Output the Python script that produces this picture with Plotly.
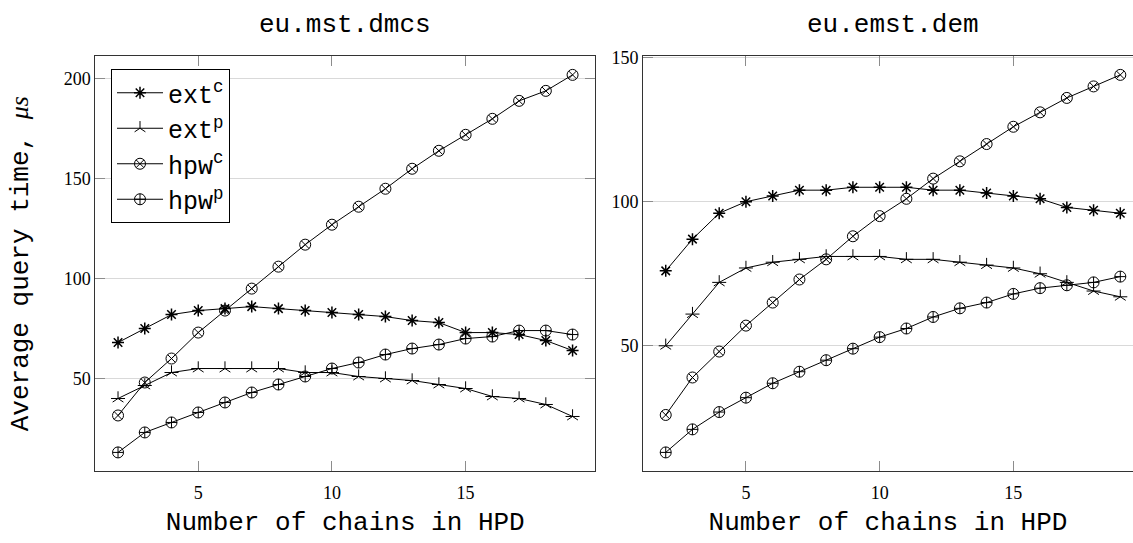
import plotly.graph_objects as go

chains = list(range(2, 20))

# eu.mst.dmcs (left)
mst_ext_c = [68, 75, 82, 84, 85, 86, 85, 84, 83, 82, 81, 79, 78, 73, 73, 72, 69, 64]
mst_ext_p = [40, 46.5, 53, 55, 55, 55, 55, 53, 53, 51, 50, 49, 47, 45, 41, 40, 37, 31]
mst_hpw_c = [31.5, 48, 60, 73, 84, 95, 106, 117, 127, 136, 145, 155, 164, 172, 180, 189, 194, 202]
mst_hpw_p = [13, 23, 28, 33, 38, 43, 47, 51, 55, 58, 62, 65, 67, 70, 71, 74, 74, 72]

# eu.emst.dem (right)
emst_ext_c = [76, 87, 96, 100, 102, 104, 104, 105, 105, 105, 104, 104, 103, 102, 101, 98, 97, 96]
emst_ext_p = [50, 61, 72, 77, 79, 80, 81, 81, 81, 80, 80, 79, 78, 77, 75, 72, 69, 67]
emst_hpw_c = [26, 39, 48, 57, 65, 73, 80, 88, 95, 101, 108, 114, 120, 126, 131, 136, 140, 144]
emst_hpw_p = [13, 21, 27, 32, 37, 41, 45, 49, 53, 56, 60, 63, 65, 68, 70, 71, 72, 74]

titles = ["eu.mst.dmcs", "eu.emst.dem"]
names = ["ext<sup>c</sup>", "ext<sup>p</sup>", "hpw<sup>c</sup>", "hpw<sup>p</sup>"]
xticks = [5, 10, 15]

MONO = "Liberation Mono"
SERIF = "Liberation Serif"
W, H = 1133, 543

fig = go.Figure()

def add_series(xa, ya, ys, show):
    ext_c, ext_p, hpw_c, hpw_p = ys
    common = dict(mode="lines+markers", line=dict(color="black", width=1))
    fig.add_trace(go.Scatter(x=chains, y=ext_c, name=names[0], xaxis=xa, yaxis=ya, showlegend=show,
                             marker=dict(symbol="asterisk-open", size=10, color="black",
                                         line=dict(color="black", width=1.5)), **common))
    fig.add_trace(go.Scatter(x=chains, y=ext_p, name=names[1], xaxis=xa, yaxis=ya, showlegend=show,
                             legendgroup="extp" + xa,
                             marker=dict(symbol="y-up-open", size=9, color="black",
                                         line=dict(color="black", width=1)), **common))
    fig.add_trace(go.Scatter(x=chains, y=ext_p, name=names[1], xaxis=xa, yaxis=ya, showlegend=False,
                             legendgroup="extp" + xa, mode="markers",
                             marker=dict(symbol="line-ew-open", size=10, color="black",
                                         line=dict(color="black", width=1))))
    fig.add_trace(go.Scatter(x=chains, y=hpw_c, name=names[2], xaxis=xa, yaxis=ya, showlegend=show,
                             marker=dict(symbol="circle-x-open", size=11, color="black",
                                         line=dict(color="black", width=1)), **common))
    fig.add_trace(go.Scatter(x=chains, y=hpw_p, name=names[3], xaxis=xa, yaxis=ya, showlegend=show,
                             marker=dict(symbol="circle-cross-open", size=11, color="black",
                                         line=dict(color="black", width=1)), **common))

add_series("x", "y", (mst_ext_c, mst_ext_p, mst_hpw_c, mst_hpw_p), True)
add_series("x2", "y2", (emst_ext_c, emst_ext_p, emst_hpw_c, emst_hpw_p), False)

ydom = [1 - 471.3 / H, 1 - 56 / H]
axis_common = dict(ticks="inside", ticklen=10, tickwidth=1, tickcolor="#8c8c8c",
                   showline=True, linecolor="#333333", linewidth=1, zeroline=False,
                   automargin=False,
                   tickfont=dict(family=SERIF, size=18, color="black"))

xtitle = dict(text="Number of chains in HPD", font=dict(family=MONO, size=26, color="black"), standoff=9)

fig.update_layout(
    width=W, height=H,
    margin=dict(l=0, r=0, t=0, b=0, autoexpand=False),
    paper_bgcolor="white", plot_bgcolor="white",
    showlegend=True,
    legend=dict(x=111 / W, y=1 - 69 / H, xanchor="left", yanchor="top",
                bordercolor="black", borderwidth=1, bgcolor="white",
                font=dict(family=MONO, size=25, color="black"),
                itemwidth=46, tracegroupgap=0),
    xaxis=dict(domain=[95.3 / W, 595.3 / W], range=[1.15, 19.85], tickvals=xticks,
               mirror="ticks", showgrid=False, anchor="y", title=xtitle, ticklabelstandoff=5,
               **axis_common),
    yaxis=dict(domain=ydom, range=[3.55, 211.45], tickvals=[50, 100, 150, 200],
               mirror="ticks", showgrid=True, gridcolor="#d9d9d9", gridwidth=1, anchor="x",
               title=dict(text="Average query time, <span style=\"font-family:Liberation Serif\"><i>μs</i></span>",
                          font=dict(family=MONO, size=26, color="black"), standoff=27),
               **axis_common),
    xaxis2=dict(domain=[643 / W, 1.0], range=[1.15, 1.15 + 490 / 26.74], tickvals=xticks,
                mirror="ticks", showgrid=False, anchor="y2", title=xtitle, ticklabelstandoff=5,
                **axis_common),
    yaxis2=dict(domain=ydom, range=[6.45, 150.55], tickvals=[50, 100, 150],
                mirror=False, showgrid=True, gridcolor="#d9d9d9", gridwidth=1, anchor="x2",
                **axis_common),
)

fig.add_annotation(text=titles[0], x=(95.3 + 595.3) / 2 / W, y=1 - 25 / H, xref="paper", yref="paper",
                   showarrow=False, xanchor="center", yanchor="middle",
                   font=dict(family=MONO, size=26, color="black"))
fig.add_annotation(text=titles[1], x=(643 + 1143) / 2 / W, y=1 - 25 / H, xref="paper", yref="paper",
                   showarrow=False, xanchor="center", yanchor="middle",
                   font=dict(family=MONO, size=26, color="black"))

fig.write_html("out.html", config={"displayModeBar": False},
               post_script="document.body.style.margin='0';document.body.style.overflow='hidden';")
